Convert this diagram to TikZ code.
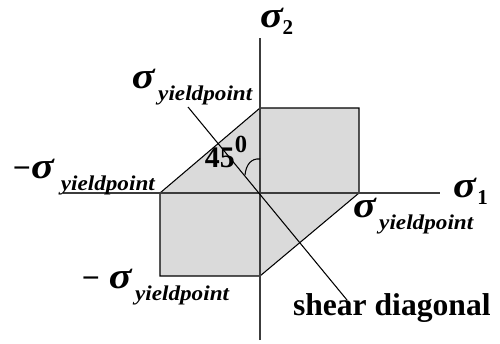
\documentclass[tikz,border=0pt]{standalone}
\usepackage{fontspec}
\setmainfont{Liberation Serif}
\usepackage{graphicx}
\usetikzlibrary{positioning}
\definecolor{Ink}{HTML}{1A1A1A}
\definecolor{Zone}{HTML}{DADADA}
\newcommand{\Sig}{{\fontsize{20}{20}\selectfont\bfseries\itshape\scalebox{1.2}[1.05]{σ}}}
\newcommand{\Neg}{{\fontsize{18}{18}\selectfont\bfseries −}}
\newcommand{\Yld}{\kern2pt\raisebox{-7pt}{\fontsize{12}{12}\selectfont\bfseries\itshape\scalebox{1.1}[1]{yieldpoint}}}
\newcommand{\Sub}[1]{\raisebox{-4.5pt}{\fontsize{12}{12}\selectfont\bfseries #1}}
\tikzset{
  axis/.style={Ink!85,line width=1.2pt},
  lbl/.style={anchor=base west,inner sep=0pt,outer sep=0pt}
}

\begin{document}
\begin{tikzpicture}[x=0.02cm,y=0.02cm]
\useasboundingbox (-260,-150) rectangle (240,193);
% yield surface
\coordinate (w)  at (-100,0);
\coordinate (nw) at (0,85);
\coordinate (ne) at (99,85);
\coordinate (e)  at (99,0);
\coordinate (se) at (0,-83);
\coordinate (sw) at (-100,-83);
\filldraw[fill=Zone,draw=black,line width=0.6pt] (w) -- (nw) -- (ne) -- (e) -- (se) -- (sw) -- cycle;
% axes
\coordinate (xl) at (-197,0);
\coordinate (xr) at (180,0);
\coordinate (yb) at (0,-147);
\coordinate (yt) at (0,155);
\draw[axis] (xl) -- (xr);
\draw[axis] (yb) -- (yt);
% shear diagonal
\coordinate (dt) at (-72,86);
\coordinate (db) at (87,-107);
\draw[black,line width=0.6pt] (dt) -- (db);
\coordinate (a1) at (0,34);
\coordinate (a2) at (-15,18);
\draw[black,line width=0.6pt] (a1) .. controls (-9,35) and (-14,28) .. (a2);
% labels
\node[lbl] (sigTwo) at (0,166) {\Sig\Sub{2}};
\node[lbl] (sigOne) at (193,-4) {\Sig\kern1pt\Sub{1}};
\node[lbl] (ypTop) at (-128,105) {\Sig\Yld};
\node[lbl] (ypLeft) at (-247,15) {\Neg\Sig\kern2pt\Yld};
\node[lbl] (ypRight) at (93,-24) {\Sig\Yld};
\node[lbl] (ypBottom) at (-178,-95) {\Neg\kern5pt\Sig\Yld};
\node[lbl,font=\fontsize{17}{17}\selectfont\bfseries] (angle) at (-55,26) {45\raisebox{8pt}{\fontsize{14}{14}\selectfont 0}};
\node[lbl,font=\fontsize{18}{18}\selectfont\bfseries] (shear) at (33,-122) {shear diagonal};
\end{tikzpicture}
\end{document}
